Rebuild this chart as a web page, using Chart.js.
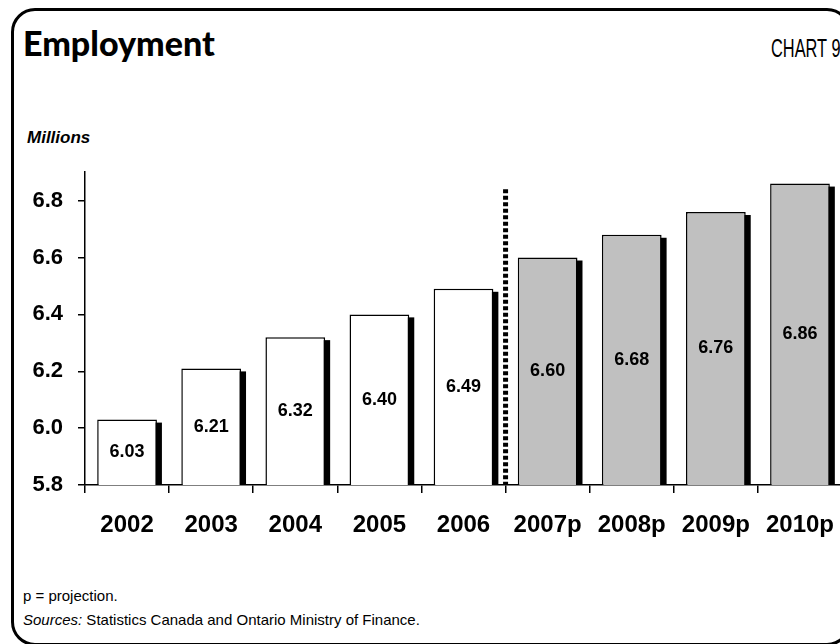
<!DOCTYPE html>
<html>
<head>
<meta charset="utf-8">
<script src="https://cdn.jsdelivr.net/npm/chart.js@4.4.1/dist/chart.umd.min.js"></script>
<style>
  html, body { margin: 0; padding: 0; background: #fff; overflow: hidden; width: 840px; height: 644px; }
  .frame { position: absolute; left: 11px; top: 8px; width: 840px; height: 638px; box-sizing: border-box;
           border: 3px solid #000; border-radius: 24px; }
  .title { position: absolute; left: 23px; top: 22px; font: 900 34px 'Lato', 'Open Sans', sans-serif; color: #000; }
  .chartno { position: absolute; left: 771px; top: 33px; font: 400 26px 'Liberation Sans', Arial, sans-serif;
             color: #000; white-space: nowrap; transform: scaleX(0.63); transform-origin: left top; }
  .unit { position: absolute; left: 27px; top: 128px; font: italic bold 17px 'Liberation Sans', Arial, sans-serif; }
  .notes { position: absolute; left: 23px; top: 584px; font: 15px 'Liberation Sans', Arial, sans-serif; line-height: 24px; }
  canvas { position: absolute; left: 0; top: 144px; }
</style>
</head>
<body>
<div class="frame"></div>
<div class="title">Employment</div>
<div class="chartno">CHART 9</div>
<div class="unit">Millions</div>
<canvas id="chartEmployment" width="852" height="400"></canvas>
<div class="notes">p = projection.<br><i>Sources:</i> Statistics Canada and Ontario Ministry of Finance.</div>

<script>
// Donnees (millions d'emplois)
const YEARS = ['2002', '2003', '2004', '2005', '2006', '2007p', '2008p', '2009p', '2010p'];
const EMPLOYMENT = [6.03, 6.21, 6.32, 6.40, 6.49, 6.60, 6.68, 6.76, 6.86];
const IS_PROJECTION = [false, false, false, false, false, true, true, true, true];
const Y_MIN = 5.8;
const Y_MAX = 6.9;
const Y_STEP = 0.2;
const DIVIDER_TOP = 6.84; // haut du pointille entre 2006 et 2007p

const FONT = "'Liberation Sans', Arial, sans-serif";

// Ombre noire decalee a droite/en bas de chaque barre
const barShadow = {
  id: 'barShadow',
  beforeDatasetsDraw(chart) {
    const ctx = chart.ctx;
    const bottom = chart.chartArea.bottom;
    ctx.save();
    ctx.fillStyle = '#000';
    chart.getDatasetMeta(0).data.forEach(bar => {
      const left = bar.x - bar.width / 2;
      ctx.fillRect(left + 5, bar.y + 3, bar.width, bottom - bar.y - 3);
    });
    ctx.restore();
  },
};

// Valeurs au centre des barres + ligne pointillee historique / projection
const barLabels = {
  id: 'barLabels',
  afterDatasetsDraw(chart) {
    const ctx = chart.ctx;
    const x = chart.scales.x, y = chart.scales.y;
    const bottom = chart.chartArea.bottom;
    ctx.save();
    ctx.fillStyle = '#000';
    ctx.font = 'bold 18px ' + FONT;
    ctx.textAlign = 'center';
    ctx.textBaseline = 'middle';
    chart.getDatasetMeta(0).data.forEach((bar, i) => {
      ctx.fillText(EMPLOYMENT[i].toFixed(2), bar.x, (bar.y + bottom) / 2);
    });

    const firstProj = IS_PROJECTION.indexOf(true);
    const dx = (x.getPixelForValue(firstProj - 1) + x.getPixelForValue(firstProj)) / 2;
    ctx.strokeStyle = '#000';
    ctx.lineWidth = 5;
    ctx.setLineDash([4, 2.5]);
    ctx.beginPath();
    ctx.moveTo(dx, y.getPixelForValue(DIVIDER_TOP));
    ctx.lineTo(dx, bottom);
    ctx.stroke();
    ctx.restore();
  },
};

new Chart(document.getElementById('chartEmployment'), {
  type: 'bar',
  data: {
    labels: YEARS,
    datasets: [{
      data: EMPLOYMENT,
      backgroundColor: IS_PROJECTION.map(p => p ? '#C0C0C0' : '#FFFFFF'),
      borderColor: '#000',
      borderWidth: 1.5,
      borderSkipped: 'bottom',
      barPercentage: 0.71,
      categoryPercentage: 1,
    }],
  },
  options: {
    responsive: false,
    animation: false,
    devicePixelRatio: 1,
    layout: { padding: { top: 15, right: 0, bottom: 0, left: 0 } },
    plugins: { legend: { display: false }, tooltip: { enabled: false } },
    scales: {
      x: {
        afterFit: s => { s.height = 59; },
        grid: { drawOnChartArea: false, drawTicks: true, tickLength: 8, color: '#000', lineWidth: 1.5 },
        border: { display: true, color: '#000', width: 1.5 },
        ticks: { color: '#000', font: { family: FONT, size: 24, weight: 'bold' }, padding: 18, maxRotation: 0 },
      },
      y: {
        min: Y_MIN,
        max: Y_MAX,
        afterFit: s => { s.width = 85; },
        grid: { drawOnChartArea: false, drawTicks: true, tickLength: 7, color: '#000', lineWidth: 1.5 },
        border: { display: true, color: '#000', width: 1.5 },
        ticks: {
          stepSize: Y_STEP,
          includeBounds: false,
          color: '#000',
          padding: 15,
          font: { family: FONT, size: 22, weight: 'bold' },
          callback: v => Number(v).toFixed(1),
        },
      },
    },
  },
  plugins: [barShadow, barLabels],
});
</script>
</body>
</html>
